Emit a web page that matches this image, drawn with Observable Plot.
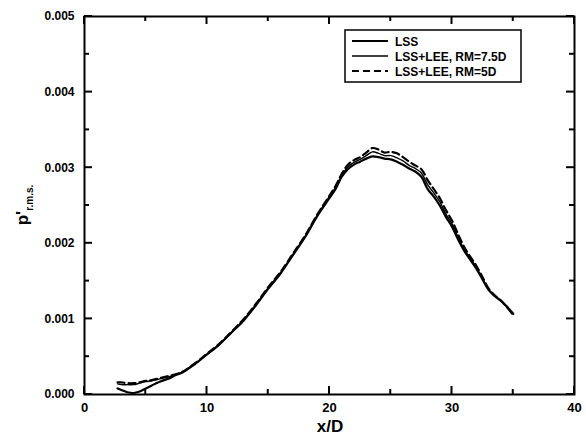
<!DOCTYPE html>
<html>
<head>
<meta charset="utf-8">
<script src="https://cdn.jsdelivr.net/npm/d3@7"></script>
<script src="https://cdn.jsdelivr.net/npm/@observablehq/plot@0.6"></script>
<style>
  html, body { margin: 0; padding: 0; background: #fff; }
  #chart svg { display: block; }
</style>
</head>
<body>
<div id="chart"></div>
<script>
// x/D positions
const xs = [2.7, 3, 3.5, 4, 4.5, 5, 5.5, 6, 6.5, 7, 7.5, 8, 9, 10, 11, 12, 13, 14, 15, 16, 17, 18, 19, 20, 20.5, 21, 21.5, 22, 22.5, 23, 23.5, 24, 24.5, 25, 25.5, 26, 26.5, 27, 27.5, 28, 28.5, 29, 29.5, 30, 30.5, 31, 31.5, 32, 32.5, 33, 33.5, 34, 34.5, 35];
// p' r.m.s. (x 1e-3)
const lss = [0.08, 0.06, 0.03, 0.02, 0.04, 0.08, 0.12, 0.16, 0.19, 0.22, 0.26, 0.29, 0.40, 0.53, 0.66, 0.82, 0.98, 1.18, 1.40, 1.60, 1.84, 2.08, 2.36, 2.60, 2.72, 2.88, 2.98, 3.04, 3.08, 3.12, 3.15, 3.14, 3.12, 3.11, 3.08, 3.04, 2.99, 2.95, 2.88, 2.72, 2.62, 2.50, 2.35, 2.22, 2.05, 1.90, 1.78, 1.66, 1.52, 1.38, 1.30, 1.24, 1.16, 1.07];
const lee75 = [0.14, 0.13, 0.13, 0.13, 0.15, 0.17, 0.18, 0.20, 0.22, 0.24, 0.27, 0.30, 0.41, 0.53, 0.66, 0.82, 0.99, 1.19, 1.41, 1.61, 1.85, 2.09, 2.37, 2.62, 2.74, 2.90, 3.01, 3.07, 3.11, 3.16, 3.21, 3.19, 3.16, 3.16, 3.13, 3.09, 3.03, 2.99, 2.93, 2.78, 2.67, 2.55, 2.39, 2.26, 2.08, 1.92, 1.80, 1.68, 1.53, 1.39, 1.30, 1.24, 1.15, 1.06];
const lee5 = [0.16, 0.16, 0.15, 0.15, 0.16, 0.18, 0.19, 0.21, 0.23, 0.25, 0.27, 0.30, 0.41, 0.54, 0.67, 0.83, 1.00, 1.20, 1.42, 1.62, 1.86, 2.10, 2.38, 2.63, 2.76, 2.92, 3.04, 3.10, 3.14, 3.20, 3.26, 3.24, 3.20, 3.21, 3.19, 3.14, 3.08, 3.03, 2.98, 2.84, 2.72, 2.60, 2.44, 2.30, 2.12, 1.95, 1.82, 1.70, 1.55, 1.40, 1.31, 1.24, 1.15, 1.05];
const seriesNames = ["LSS", "LSS+LEE, RM=7.5D", "LSS+LEE, RM=5D"];
const xTicks = [0, 10, 20, 30, 40];
const xMinor = [5, 15, 25, 35];
const yTicks = [0, 0.001, 0.002, 0.003, 0.004, 0.005];
const yMinor = [0.0005, 0.0015, 0.0025, 0.0035, 0.0045];

const rows = [];
[lss, lee75, lee5].forEach((arr, s) => arr.forEach((v, i) => rows.push({series: seriesNames[s], x: xs[i], y: v / 1000})));

const font = "'Liberation Sans', Arial, sans-serif";
const styles = {
  "LSS": {w: 2.2, dash: null},
  "LSS+LEE, RM=7.5D": {w: 1.4, dash: null},
  "LSS+LEE, RM=5D": {w: 2.2, dash: "7,4"}
};
const W = 586, H = 437, mL = 84, mR = 12, mT = 16, mB = 43;

const plot = Plot.plot({
  width: W, height: H,
  marginLeft: mL, marginRight: mR, marginTop: mT, marginBottom: mB,
  style: {fontFamily: font, background: "#fff", color: "#000", overflow: "visible"},
  x: {domain: [0, 40]},
  y: {domain: [0, 0.005]},
  marks: [
    Plot.axisX({ticks: xTicks, tickSize: 0, tickPadding: 8, tickFormat: d3.format("d"), fontSize: 13, fontWeight: "bold", label: null}),
    Plot.axisY({ticks: yTicks, tickSize: 0, tickPadding: 10, tickFormat: d3.format(".3f"), fontSize: 12, fontWeight: "bold", label: null}),
    Plot.frame({stroke: "#000", strokeWidth: 2}),
    ...seriesNames.map(n => Plot.line(rows.filter(r => r.series === n), {
      x: "x", y: "y", stroke: "#000", strokeWidth: styles[n].w,
      strokeDasharray: styles[n].dash, curve: "catmull-rom"
    }))
  ]
});

const svg = d3.select(plot);
const sx = plot.scale("x"), sy = plot.scale("y");
const x0 = mL, x1 = W - mR, y0 = H - mB, y1 = mT;
// inward ticks on all four sides, positioned by Plot's scales
const tg = svg.append("g");
const addTick = (ax, bx, ay, by) => tg.append("line")
  .attr("x1", ax).attr("x2", bx).attr("y1", ay).attr("y2", by)
  .attr("stroke", "#000").attr("stroke-width", 2).style("stroke", "#000");
[[xTicks, 8], [xMinor, 5]].forEach(([vals, len]) => vals.forEach(v => {
  const px = sx.apply(v);
  addTick(px, px, y0, y0 - len);
  addTick(px, px, y1, y1 + len);
}));
[[yTicks, 8], [yMinor, 5]].forEach(([vals, len]) => vals.forEach(v => {
  const py = sy.apply(v);
  addTick(x0, x0 + len, py, py);
  addTick(x1, x1 - len, py, py);
}));

// x axis title
svg.append("text").attr("x", 330).attr("y", 432).attr("text-anchor", "middle")
  .attr("font-family", font).attr("font-size", 17).attr("font-weight", "bold").text("x/D");
// y axis title
const yt = svg.append("text").attr("transform", "translate(28,205) rotate(-90)")
  .attr("text-anchor", "middle").attr("font-family", font).attr("font-weight", "bold").attr("font-size", 17);
yt.append("tspan").text("p'");
yt.append("tspan").attr("font-size", 10).attr("dy", 5).text("r.m.s.");

// legend
const lg = svg.append("g").attr("transform", "translate(345,30)");
lg.append("rect").attr("width", 176).attr("height", 52).attr("fill", "#fff").attr("stroke", "#000").attr("stroke-width", 1.5);
seriesNames.forEach((n, i) => {
  const y = 11 + i * 15;
  lg.append("line").attr("x1", 7).attr("x2", 43).attr("y1", y).attr("y2", y)
    .attr("stroke", "#000").attr("stroke-width", styles[n].w).attr("stroke-dasharray", styles[n].dash);
  lg.append("text").attr("x", 50).attr("y", y + 4.5).attr("text-anchor", "start").attr("font-family", font)
    .attr("font-size", 12).attr("font-weight", "bold").text(n);
});

document.getElementById("chart").appendChild(plot);
</script>
</body>
</html>
